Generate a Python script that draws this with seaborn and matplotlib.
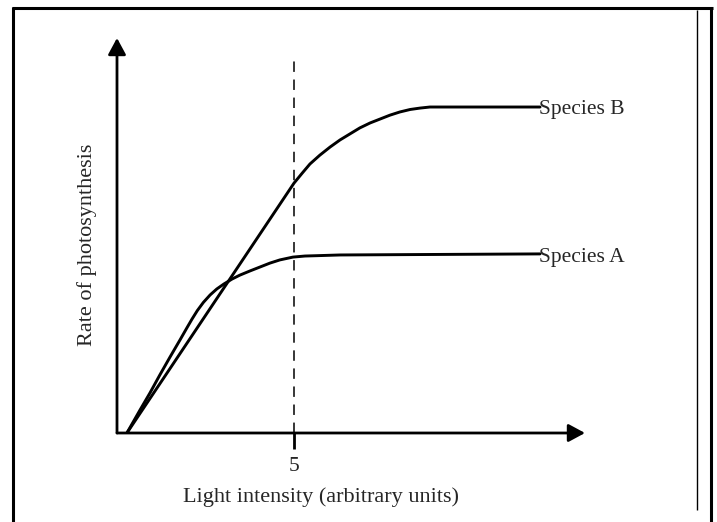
import matplotlib
matplotlib.use("Agg")
import matplotlib.pyplot as plt
from matplotlib.lines import Line2D
import seaborn as sns


# Curve data (light intensity, rate of photosynthesis)

species_a_x = [0.28, 0.65, 0.93, 1.21, 1.50, 1.78, 1.98, 2.12, 2.27, 2.44, 2.63, 2.82,
               3.02, 3.25, 3.47, 3.76, 4.04, 4.32, 4.60, 4.97, 5.31, 5.65, 6.30, 11.95]
species_a_y = [0.00, 0.65, 1.13, 1.64, 2.15, 2.63, 2.98, 3.22, 3.46, 3.69, 3.90, 4.07,
               4.21, 4.35, 4.46, 4.58, 4.69, 4.80, 4.89, 4.97, 5.00, 5.01, 5.03, 5.06]

species_b_x = [0.28, 5.00, 5.23, 5.45, 5.73, 6.02, 6.30, 6.58, 6.86, 7.15, 7.43, 7.71,
               7.99, 8.28, 8.56, 8.84, 11.95]
species_b_y = [0.00, 7.06, 7.34, 7.60, 7.85, 8.08, 8.28, 8.45, 8.62, 8.76, 8.87, 8.98,
               9.07, 9.14, 9.18, 9.21, 9.21]

x_ticks = [5]
x_max = 13.22
y_max = 11.16
dashed_x = 5
dashed_top = 10.6


# -------------------------------
# Figure setup
# -------------------------------

sns.set_style("white")
plt.rcParams["font.family"] = ["Liberation Serif", "DejaVu Serif"]
plt.rcParams["lines.scale_dashes"] = False

W, H = 717, 522
fig = plt.figure(figsize=(W / 100, H / 100), dpi=100)

ax = fig.add_axes([117 / W, 1 - 433 / H, (585 - 117) / W, (433 - 38) / H])
ax.set_xlim(0, x_max)
ax.set_ylim(0, y_max)
for s in ax.spines.values():
    s.set_visible(False)
ax.patch.set_alpha(0)

# axis arrows
arrow = dict(arrowstyle="-|>,head_length=1.0,head_width=0.54", lw=2.0,
             color="black", mutation_scale=10, shrinkA=0, shrinkB=0)
ax.annotate("", xy=(1, 0), xytext=(0, 0), xycoords="axes fraction",
            textcoords="axes fraction", arrowprops=arrow, annotation_clip=False)
ax.annotate("", xy=(0, 1), xytext=(0, 0), xycoords="axes fraction",
            textcoords="axes fraction", arrowprops=arrow, annotation_clip=False)


# -------------------------------
# Curves
# -------------------------------

sns.lineplot(x=species_a_x, y=species_a_y, ax=ax, color="black", lw=2.1,
             sort=False, estimator=None)
sns.lineplot(x=species_b_x, y=species_b_y, ax=ax, color="black", lw=2.1,
             sort=False, estimator=None)

ax.plot([dashed_x, dashed_x], [0, dashed_top], color="black", lw=1.1,
        linestyle=(0, (7.5, 5.5)))

ax.text(species_b_x[-1] - 0.03, species_b_y[-1] - 0.08, "Species B",
        ha="left", va="center", fontsize=15.5)
ax.text(species_a_x[-1] - 0.03, species_a_y[-1] - 0.09, "Species A",
        ha="left", va="center", fontsize=15.5)


# -------------------------------
# Ticks and labels
# -------------------------------

ax.set_xticks(x_ticks)
ax.set_xticklabels([str(t) for t in x_ticks])
ax.set_yticks([])
ax.tick_params(axis="x", direction="out", length=11.5, width=2.0,
               labelsize=15.5, pad=5.5, color="black", bottom=True)

ax.set_xlabel("Light intensity (arbitrary units)", fontsize=16)
ax.xaxis.set_label_coords((321 - 117) / 468, -(497 - 433) / 395)
ax.xaxis.label.set_va("center")

ax.set_ylabel("Rate of photosynthesis", fontsize=16)
ax.yaxis.set_label_coords((87 - 117) / 468, (433 - 245) / 395)
ax.yaxis.label.set_va("center")


# -------------------------------
# Frame around the picture
# -------------------------------

def fig_line(x0, y0, x1, y1, lw):
    fig.add_artist(Line2D([x0 / W, x1 / W], [1 - y0 / H, 1 - y1 / H],
                          color="black", lw=lw, solid_capstyle="butt"))

fig_line(11.5, 7.5, 712.5, 7.5, 2.2)
fig_line(13, 6.5, 13, 522, 2.2)
fig_line(711, 6.5, 711, 522, 2.2)
fig_line(697, 10, 697, 510, 1.0)

fig.savefig("out.png", dpi=100)
